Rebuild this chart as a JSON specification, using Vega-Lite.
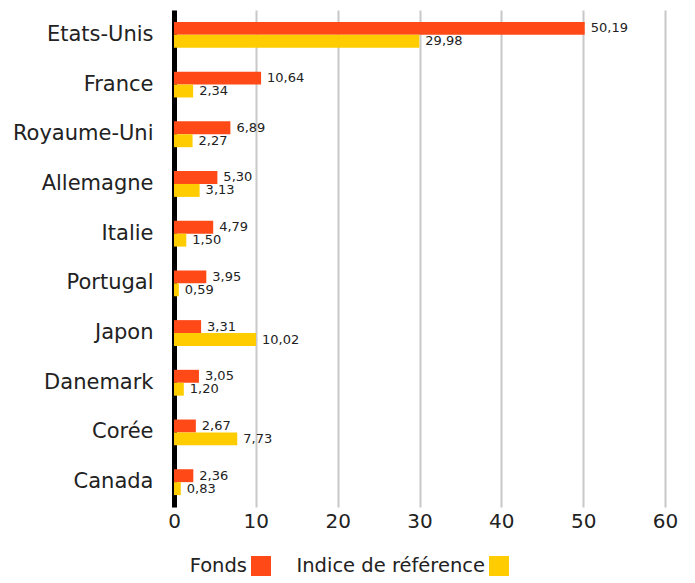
{
  "$schema": "https://vega.github.io/schema/vega-lite/v6.json",
  "autosize": {"type": "none"},
  "width": 491,
  "height": 497,
  "padding": {"left": 174, "top": 10, "right": 30, "bottom": 76},
  "config": {
    "font": "DejaVu Sans",
    "view": {"stroke": null},
    "locale": {"number": {"decimal": ",", "thousands": " ", "grouping": [3], "currency": ["", " €"]}}
  },
  "data": {
    "values": [
      {"pays": "Etats-Unis", "serie": "Fonds", "valeur": 50.19},
      {"pays": "Etats-Unis", "serie": "Indice de référence", "valeur": 29.98},
      {"pays": "France", "serie": "Fonds", "valeur": 10.64},
      {"pays": "France", "serie": "Indice de référence", "valeur": 2.34},
      {"pays": "Royaume-Uni", "serie": "Fonds", "valeur": 6.89},
      {"pays": "Royaume-Uni", "serie": "Indice de référence", "valeur": 2.27},
      {"pays": "Allemagne", "serie": "Fonds", "valeur": 5.30},
      {"pays": "Allemagne", "serie": "Indice de référence", "valeur": 3.13},
      {"pays": "Italie", "serie": "Fonds", "valeur": 4.79},
      {"pays": "Italie", "serie": "Indice de référence", "valeur": 1.50},
      {"pays": "Portugal", "serie": "Fonds", "valeur": 3.95},
      {"pays": "Portugal", "serie": "Indice de référence", "valeur": 0.59},
      {"pays": "Japon", "serie": "Fonds", "valeur": 3.31},
      {"pays": "Japon", "serie": "Indice de référence", "valeur": 10.02},
      {"pays": "Danemark", "serie": "Fonds", "valeur": 3.05},
      {"pays": "Danemark", "serie": "Indice de référence", "valeur": 1.20},
      {"pays": "Corée", "serie": "Fonds", "valeur": 2.67},
      {"pays": "Corée", "serie": "Indice de référence", "valeur": 7.73},
      {"pays": "Canada", "serie": "Fonds", "valeur": 2.36},
      {"pays": "Canada", "serie": "Indice de référence", "valeur": 0.83}
    ]
  },
  "encoding": {
    "y": {
      "field": "pays", "type": "nominal", "sort": null,
      "scale": {"paddingInner": 0.48, "paddingOuter": 0.24},
      "axis": {"title": null, "ticks": false, "labelFontSize": 21, "labelColor": "#222222", "labelPadding": 21, "domainColor": "#000000", "domainWidth": 5}
    },
    "yOffset": {"field": "serie", "type": "nominal", "sort": ["Fonds", "Indice de référence"], "scale": {"paddingInner": 0}},
    "x": {
      "field": "valeur", "type": "quantitative",
      "scale": {"domain": [0, 60], "nice": false},
      "axis": {"title": null, "values": [0, 10, 20, 30, 40, 50, 60], "domain": false, "ticks": false, "grid": true, "gridColor": "#c8c8c8", "gridWidth": 2, "labelFontSize": 20, "labelColor": "#222222", "labelPadding": 4, "labelFlush": false, "format": "d"}
    }
  },
  "layer": [
    {
      "mark": {"type": "bar"},
      "encoding": {
        "color": {
          "field": "serie", "type": "nominal",
          "scale": {"domain": ["Fonds", "Indice de référence"], "range": ["#FF4A17", "#FFCC00"]},
          "legend": {
            "title": null, "orient": "none", "direction": "horizontal",
            "legendX": 77, "legendY": 546,
            "symbolType": "square", "symbolSize": 400, "symbolStrokeWidth": 0, "symbolOpacity": 1,
            "labelFontSize": 19.5, "labelColor": "#222222", "labelAlign": "right", "labelOffset": -24, "labelLimit": 0,
            "columnPadding": 25
          }
        }
      }
    },
    {
      "mark": {"type": "text", "align": "left", "baseline": "middle", "dx": 6, "fontSize": 13, "color": "#222222"},
      "encoding": {
        "text": {"field": "valeur", "type": "quantitative", "format": ".2f"}
      }
    }
  ]
}
